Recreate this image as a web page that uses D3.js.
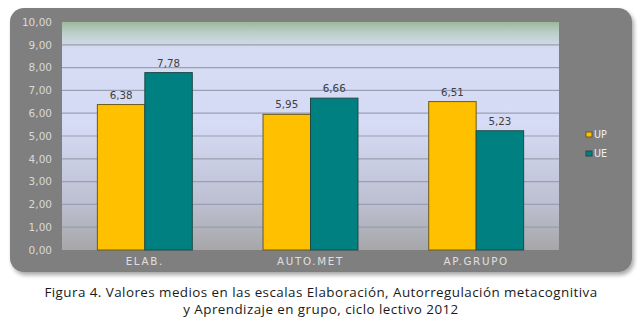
<!DOCTYPE html>
<html><head><meta charset="utf-8">
<script src="https://cdn.jsdelivr.net/npm/d3@7"></script>
<style>body{margin:0;background:#fff;}svg{display:block;}</style>
</head><body>
<svg id="c" width="643" height="324"></svg>
<script>
const categories = ["ELAB.", "AUTO.MET", "AP.GRUPO"];
const series = ["UP", "UE"];
const valuesUP = [6.38, 5.95, 6.51];
const valuesUE = [7.78, 6.66, 5.23];
const yTicks = [0,1,2,3,4,5,6,7,8,9,10];
const colors = {UP: "#FFC000", UE: "#008080"};
const strokes = {UP: "#6b5a1e", UE: "#1e4a46"};
const captionLines = ["Figura 4. Valores medios en las escalas Elaboración, Autorregulación metacognitiva",
                      "y Aprendizaje en grupo, ciclo lectivo 2012"];

const FONT = "DejaVu Sans, Verdana, sans-serif";
const svg = d3.select("#c");
const defs = svg.append("defs");
const g1 = defs.append("linearGradient").attr("id","bg").attr("x1",0).attr("y1",0).attr("x2",0).attr("y2",1);
[[0,"#9db79c"],[0.05,"#bdd0cc"],[0.12,"#d6dcf4"],[0.45,"#d6dbf6"],[0.8,"#bcbfd0"],[1,"#a7a7a9"]]
  .forEach(([o,c])=>g1.append("stop").attr("offset",o).attr("stop-color",c));
const sh = defs.append("filter").attr("id","sh").attr("x","-5%").attr("y","-5%").attr("width","110%").attr("height","115%");
sh.append("feGaussianBlur").attr("in","SourceAlpha").attr("stdDeviation",2);
sh.append("feOffset").attr("dx",2).attr("dy",3).attr("result","b");
sh.append("feComponentTransfer").append("feFuncA").attr("type","linear").attr("slope",0.35);
const m = sh.append("feMerge"); m.append("feMergeNode"); m.append("feMergeNode").attr("in","SourceGraphic");

// outer frame
svg.append("rect").attr("x",10).attr("y",8).attr("width",622).attr("height",264)
  .attr("rx",14).attr("fill","#7f7f7f").attr("filter","url(#sh)");

const L = 62, R = 559, T = 22, B = 250;
const y = d3.scaleLinear().domain([0,10]).range([B,T]);
const x0 = d3.scaleBand().domain(categories).range([L,R]).padding(0);
const x1 = d3.scaleBand().domain(series).range([0,x0.bandwidth()]).paddingInner(0).paddingOuter(0.745);

svg.append("rect").attr("x",L).attr("y",T).attr("width",R-L).attr("height",B-T).attr("fill","url(#bg)");

// grid
svg.append("g").selectAll("line").data(yTicks.filter(d=>d>0&&d<10)).join("line")
  .attr("x1",L).attr("x2",R).attr("y1",d=>y(d)).attr("y2",d=>y(d))
  .attr("stroke","#9a9fb2").attr("stroke-width",1.2);

// y axis
const yAxis = d3.axisLeft(y).tickValues(yTicks).tickSize(0).tickPadding(10)
  .tickFormat(d=>d3.format(".2f")(d).replace(".",","));
const ga = svg.append("g").attr("transform",`translate(${L},0)`).call(yAxis);
ga.select(".domain").remove();
ga.selectAll("text").attr("fill","#d9d9d9").style("font-family",FONT).style("font-size","10.5px");

// x axis
const xAxis = d3.axisBottom(x0).tickSize(0).tickPadding(8);
const gx = svg.append("g").attr("transform",`translate(0,${B})`).call(xAxis);
gx.select(".domain").remove();
gx.selectAll("text").attr("fill","#e0e0e0").style("font-family",FONT).style("font-size","10.3px")
  .style("letter-spacing","1.7px");

// bars
const data = categories.map((c,i)=>({c, vals:[{s:"UP",v:valuesUP[i]},{s:"UE",v:valuesUE[i]}]}));
const grp = svg.append("g").selectAll("g").data(data).join("g").attr("transform",d=>`translate(${x0(d.c)},0)`);
grp.selectAll("rect").data(d=>d.vals).join("rect")
  .attr("x",d=>x1(d.s)).attr("width",x1.bandwidth()).attr("y",d=>y(d.v)).attr("height",d=>B-y(d.v))
  .attr("fill",d=>colors[d.s]).attr("stroke",d=>strokes[d.s]).attr("stroke-width",1);
grp.selectAll("text").data(d=>d.vals).join("text")
  .attr("x",d=>x1(d.s)+x1.bandwidth()/2).attr("y",d=>y(d.v)-6)
  .attr("text-anchor","middle").attr("fill","#404040")
  .style("font-family",FONT).style("font-size","10.3px")
  .text(d=>d3.format(".2f")(d.v).replace(".",","));

// legend
const lg = svg.append("g").selectAll("g").data(series).join("g").attr("transform",(d,i)=>`translate(586,${132+i*19})`);
lg.append("rect").attr("width",6).attr("height",5).attr("y",0).attr("fill",d=>colors[d]).attr("stroke",d=>strokes[d]);
lg.append("text").attr("x",8).attr("y",6).attr("fill","#eeeeee")
  .style("font-family",FONT).style("font-size","9.6px").text(d=>d);

// caption
svg.append("g").selectAll("text").data(captionLines).join("text")
  .attr("x",321).attr("y",(d,i)=>297+i*16.5).attr("text-anchor","middle").attr("fill","#1a1a1a")
  .style("font-family","Open Sans, sans-serif").style("font-size","13.4px").style("letter-spacing","0.45px")
  .text(d=>d);
</script>
</body></html>
